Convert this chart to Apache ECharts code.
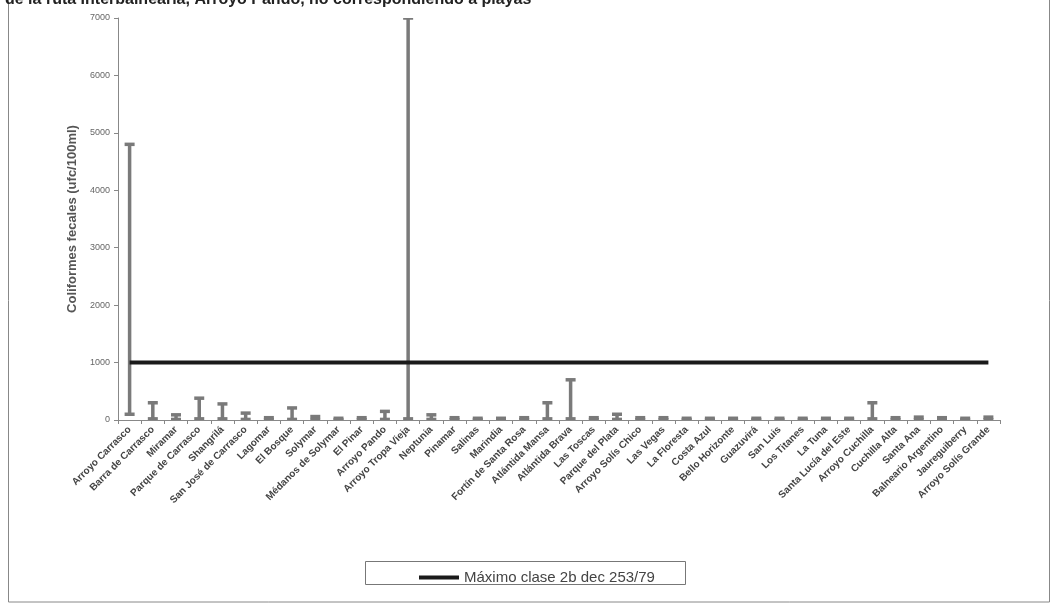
<!DOCTYPE html>
<html>
<head>
<meta charset="utf-8">
<script src="https://cdn.jsdelivr.net/npm/echarts@6/dist/echarts.min.js"></script>
<style>
  html, body { margin: 0; padding: 0; background: #fff; }
  #chart { width: 1058px; height: 604px; }
</style>
</head>
<body>
<div id="chart"></div>
<script>
// playas / puntos de muestreo
const categories = [
  'Arroyo Carrasco', 'Barra de Carrasco', 'Miramar', 'Parque de Carrasco', 'Shangrilá',
  'San José de Carrasco', 'Lagomar', 'El Bosque', 'Solymar', 'Médanos de Solymar',
  'El Pinar', 'Arroyo Pando', 'Arroyo Tropa Vieja', 'Neptunia', 'Pinamar',
  'Salinas', 'Marindia', 'Fortín de Santa Rosa', 'Atlántida Mansa', 'Atlántida Brava',
  'Las Toscas', 'Parque del Plata', 'Arroyo Solís Chico', 'Las Vegas', 'La Floresta',
  'Costa Azul', 'Bello Horizonte', 'Guazuvirá', 'San Luis', 'Los Titanes',
  'La Tuna', 'Santa Lucía del Este', 'Arroyo Cuchilla', 'Cuchilla Alta', 'Santa Ana',
  'Balneario Argentino', 'Jaureguiberry', 'Arroyo Solís Grande'
]
// valores máximos y mínimos (ufc/100ml)
const maxValues = [
  4800, 300, 90, 380, 280, 120, 40, 210, 60, 30,
  40, 150, 7000, 90, 40, 30, 30, 40, 300, 700,
  40, 100, 40, 40, 30, 30, 30, 30, 30, 30,
  30, 30, 300, 40, 50, 40, 30, 50
]
const minValues = [
  100, 20, 10, 20, 20, 10, 5, 10, 5, 5,
  5, 10, 20, 10, 5, 5, 5, 5, 20, 20,
  5, 10, 5, 5, 5, 5, 5, 5, 5, 5,
  5, 5, 20, 5, 5, 5, 5, 5
]
const limitValue = 1000
const yTicks = [0, 1000, 2000, 3000, 4000, 5000, 6000, 7000]
const legendName = 'Máximo clase 2b dec 253/79'

const chart = echarts.init(document.getElementById('chart'))

const rangeData = categories.map((c, i) => [i, minValues[i], maxValues[i]])

chart.setOption({
  animation: false,
  title: {
    text: 'de la ruta Interbalnearia, Arroyo Pando, no correspondiendo a playas',
    left: 0, top: -13,
    textStyle: { fontFamily: 'Liberation Sans', fontSize: 16, fontWeight: 'bold', color: '#222' }
  },
  graphic: [{
    type: 'rect', silent: true, z: -1,
    shape: { x: 8.5, y: -2, width: 1041, height: 604 },
    style: { fill: 'none', stroke: '#888', lineWidth: 1 }
  }, {
    type: 'rect', silent: true, z: -1,
    shape: { x: 365.5, y: 561.5, width: 320, height: 23 },
    style: { fill: '#fff', stroke: '#777', lineWidth: 1 }
  }],
  legend: {
    data: [legendName],
    left: 414, top: 565,
    icon: 'rect', itemWidth: 40, itemHeight: 4, itemGap: 8,
    textStyle: { fontFamily: 'Liberation Sans', fontSize: 15, color: '#444' }
  },
  grid: { left: 118, right: 58, top: 18, bottom: 184 },
  xAxis: {
    type: 'category',
    data: categories,
    axisLine: { lineStyle: { color: '#888', width: 1 } },
    axisTick: { show: true, length: 4, lineStyle: { color: '#888' } },
    axisLabel: {
      interval: 0, rotate: 45, margin: 8,
      fontFamily: 'Liberation Sans', fontSize: 10, fontWeight: 'bold', color: '#444'
    }
  },
  yAxis: {
    type: 'value',
    min: 0, max: 7000, interval: 1000,
    name: 'Coliformes fecales (ufc/100ml)',
    nameLocation: 'middle', nameGap: 37,
    nameTextStyle: { fontFamily: 'Liberation Sans', fontSize: 13, fontWeight: 'bold', color: '#555' },
    axisLine: { show: true, lineStyle: { color: '#888' } },
    axisTick: { show: true, length: 4, lineStyle: { color: '#888' } },
    splitLine: { show: false },
    axisLabel: {
      fontFamily: 'Liberation Sans', fontSize: 9, color: '#666', margin: 8,
      formatter: v => yTicks.includes(v) ? String(v) : ''
    }
  },
  series: [{
    type: 'custom',
    name: 'rango',
    clip: true,
    data: rangeData,
    encode: { x: 0, y: [1, 2] },
    renderItem: (params, api) => {
      const lo = api.coord([api.value(0), api.value(1)])
      const hi = api.coord([api.value(0), api.value(2)])
      const capW = 5
      const style = { stroke: '#7a7a7a', lineWidth: 3.5 }
      return {
        type: 'group',
        children: [
          { type: 'line', shape: { x1: lo[0], y1: lo[1], x2: hi[0], y2: hi[1] }, style },
          { type: 'line', shape: { x1: hi[0] - capW, y1: hi[1], x2: hi[0] + capW, y2: hi[1] }, style },
          { type: 'line', shape: { x1: lo[0] - capW, y1: lo[1], x2: lo[0] + capW, y2: lo[1] }, style }
        ]
      }
    }
  }, {
    type: 'line',
    name: legendName,
    data: categories.map(() => limitValue),
    symbol: 'none',
    z: 3,
    lineStyle: { color: '#1a1a1a', width: 4 },
    itemStyle: { color: '#1a1a1a' }
  }]
})
</script>
</body>
</html>
